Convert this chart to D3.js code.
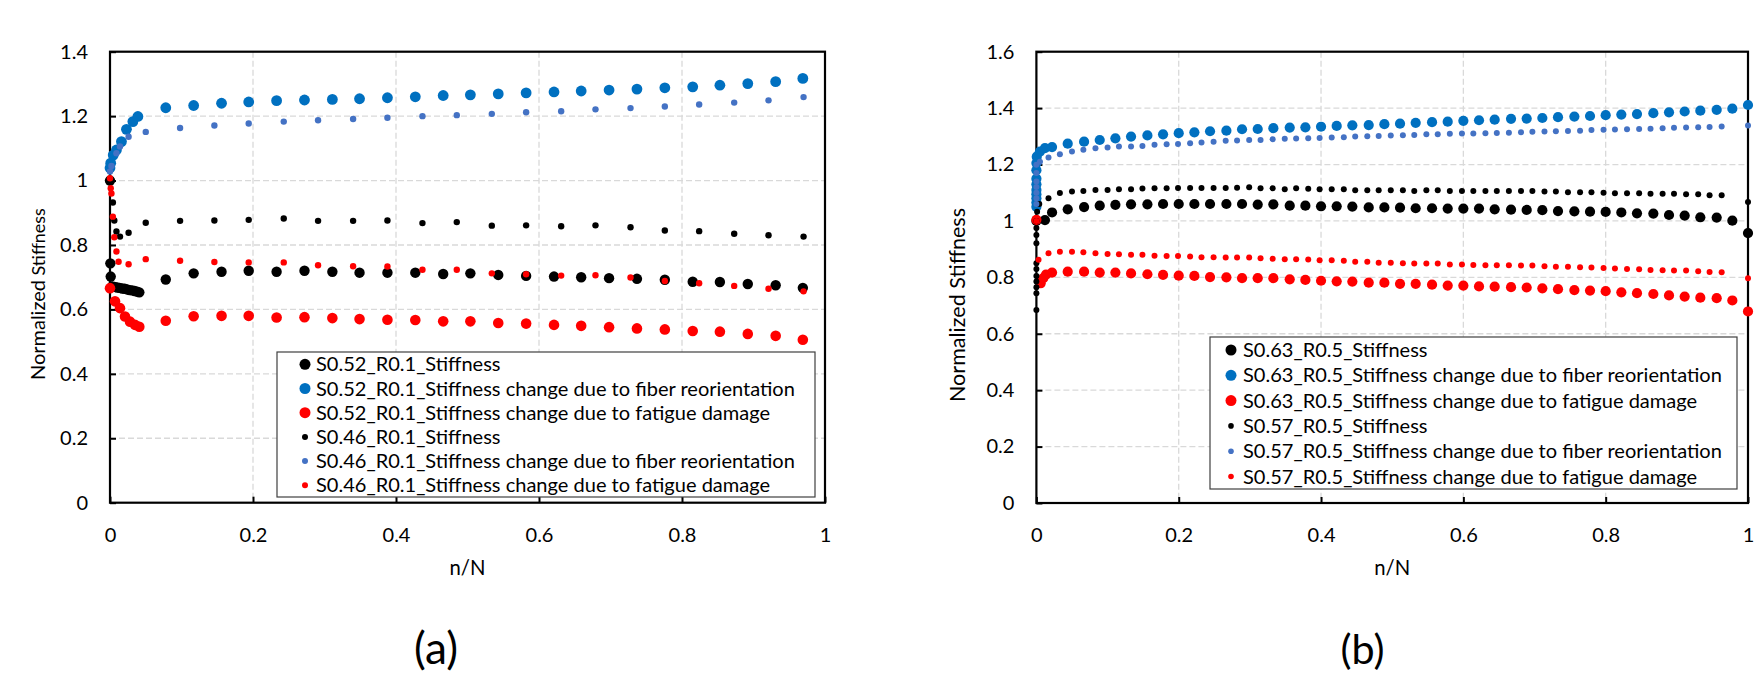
<!DOCTYPE html>
<html><head><meta charset="utf-8">
<script src="https://cdn.jsdelivr.net/npm/d3@7"></script>
<style>
body{margin:0;background:#fff;}
svg{display:block;}
text{font-family:Lato,'Open Sans',sans-serif;fill:#000;}
</style>
</head><body>
<svg id="c" width="1754" height="673"></svg>
<script>
// ---------------- Panel (a) data ----------------
const aXLarge = [0.078,0.117,0.156,0.194,0.233,0.272,0.311,0.349,0.388,0.427,0.466,0.504,0.543,0.582,0.621,0.659,0.698,0.737,0.776,0.815,0.853,0.892,0.931,0.969];
const aXSmall = [0.050,0.098,0.146,0.194,0.243,0.291,0.340,0.388,0.437,0.485,0.534,0.582,0.631,0.679,0.728,0.776,0.824,0.873,0.921,0.970];

const a1EarlyX = [0,0.0005,0.001,0.003,0.0065,0.010,0.0135,0.017,0.0205,0.024,0.0275,0.031,0.0345,0.038,0.041];
const a1EarlyY = [1.0,0.743,0.702,0.671,0.670,0.668,0.667,0.665,0.664,0.662,0.660,0.659,0.657,0.655,0.653];
const a1Y = [0.693,0.712,0.717,0.720,0.717,0.720,0.717,0.714,0.714,0.714,0.710,0.712,0.707,0.704,0.702,0.700,0.697,0.695,0.692,0.686,0.685,0.679,0.675,0.667];

const a2EarlyX = [0,0.001,0.0045,0.009,0.016,0.023,0.032,0.039];
const a2EarlyY = [1.039,1.054,1.079,1.095,1.121,1.159,1.183,1.199];
const a2Y = [1.226,1.233,1.240,1.244,1.248,1.250,1.252,1.254,1.257,1.260,1.264,1.266,1.269,1.272,1.275,1.278,1.281,1.284,1.288,1.291,1.296,1.301,1.307,1.317];

const a3EarlyX = [0,0.007,0.014,0.021,0.028,0.035,0.041];
const a3EarlyY = [0.666,0.625,0.604,0.578,0.562,0.552,0.546];
const a3Y = [0.565,0.579,0.580,0.580,0.575,0.576,0.573,0.570,0.568,0.567,0.563,0.563,0.558,0.556,0.552,0.549,0.545,0.541,0.538,0.533,0.531,0.524,0.518,0.506];

const a4EarlyX = [0,0.004,0.006,0.009,0.014,0.026];
const a4EarlyY = [1.0,0.932,0.876,0.842,0.826,0.838];
const a4Y = [0.869,0.875,0.876,0.878,0.882,0.875,0.875,0.876,0.868,0.871,0.860,0.861,0.858,0.861,0.855,0.845,0.843,0.835,0.830,0.826];

const a5EarlyX = [0,0.002,0.009,0.014,0.026];
const a5EarlyY = [1.028,1.045,1.085,1.106,1.136];
const a5Y = [1.151,1.163,1.171,1.177,1.183,1.187,1.191,1.195,1.200,1.203,1.207,1.212,1.215,1.221,1.225,1.230,1.236,1.242,1.249,1.259];

const a6EarlyX = [0,0.001,0.002,0.004,0.006,0.009,0.012,0.026];
const a6EarlyY = [1.007,0.976,0.960,0.888,0.824,0.780,0.748,0.740];
const a6Y = [0.756,0.751,0.747,0.746,0.746,0.737,0.734,0.733,0.723,0.723,0.712,0.709,0.705,0.706,0.699,0.688,0.681,0.673,0.664,0.656];

const aNames = ["S0.52_R0.1_Stiffness","S0.52_R0.1_Stiffness change due to fiber reorientation","S0.52_R0.1_Stiffness change due to fatigue damage","S0.46_R0.1_Stiffness","S0.46_R0.1_Stiffness change due to fiber reorientation","S0.46_R0.1_Stiffness change due to fatigue damage"];
const aYTicks = [0,0.2,0.4,0.6,0.8,1.0,1.2,1.4];
const aYTickLabels = ["0","0.2","0.4","0.6","0.8","1","1.2","1.4"];

// ---------------- Panel (b) data ----------------
const bXLarge = [0.022,0.044,0.067,0.089,0.111,0.133,0.156,0.178,0.200,0.222,0.244,0.267,0.289,0.311,0.333,0.356,0.378,0.400,0.422,0.444,0.467,0.489,0.511,0.533,0.556,0.578,0.600,0.622,0.644,0.667,0.689,0.711,0.733,0.756,0.778,0.800,0.822,0.844,0.867,0.889,0.911,0.933,0.956,0.978,1.000];
const bXSmall = [0.017,0.033,0.050,0.066,0.083,0.100,0.116,0.133,0.149,0.166,0.183,0.199,0.216,0.232,0.249,0.266,0.282,0.299,0.315,0.332,0.349,0.365,0.382,0.398,0.415,0.432,0.448,0.465,0.481,0.498,0.515,0.531,0.548,0.564,0.581,0.598,0.614,0.631,0.647,0.664,0.681,0.697,0.714,0.730,0.747,0.764,0.780,0.797,0.813,0.830,0.847,0.863,0.880,0.896,0.913,0.930,0.946,0.963,1.000];

const b1EarlyX = [0,0.012];
const b1EarlyY = [1.0,1.003];
const b1Y = [1.030,1.041,1.049,1.054,1.057,1.059,1.059,1.060,1.060,1.060,1.060,1.060,1.060,1.058,1.059,1.054,1.054,1.052,1.052,1.051,1.048,1.048,1.047,1.045,1.045,1.044,1.044,1.044,1.041,1.040,1.039,1.038,1.035,1.034,1.033,1.032,1.030,1.027,1.026,1.021,1.019,1.013,1.012,1.001,0.957];

const b2EarlyX = [0,0,0,0,0,0,0,0,0,0.0005,0.005,0.012];
const b2EarlyY = [1.05,1.065,1.08,1.095,1.11,1.13,1.15,1.18,1.205,1.228,1.246,1.258];
const b2Y = [1.262,1.274,1.281,1.287,1.293,1.299,1.303,1.307,1.311,1.314,1.318,1.320,1.325,1.326,1.329,1.331,1.332,1.334,1.337,1.339,1.340,1.343,1.345,1.348,1.350,1.352,1.355,1.357,1.359,1.362,1.363,1.365,1.368,1.370,1.372,1.375,1.377,1.379,1.382,1.385,1.388,1.391,1.394,1.398,1.411];

const b3EarlyX = [0,0.006,0.0097,0.0135];
const b3EarlyY = [1.004,0.779,0.797,0.810];
const b3Y = [0.817,0.820,0.820,0.817,0.817,0.814,0.811,0.809,0.806,0.805,0.801,0.800,0.797,0.797,0.797,0.793,0.791,0.788,0.786,0.785,0.781,0.781,0.777,0.777,0.774,0.771,0.771,0.768,0.767,0.765,0.764,0.761,0.758,0.755,0.753,0.751,0.747,0.744,0.741,0.736,0.732,0.728,0.726,0.718,0.679];

const b4EarlyX = [0,0,0,0,0,0,0,0,0,0,0,0.001,0.004];
const b4EarlyY = [0.684,0.744,0.765,0.785,0.805,0.830,0.850,0.921,0.950,0.975,1.0,1.033,1.060];
const b4Y = [1.080,1.099,1.104,1.106,1.110,1.110,1.112,1.112,1.115,1.116,1.116,1.117,1.117,1.117,1.117,1.117,1.118,1.119,1.116,1.116,1.112,1.116,1.114,1.112,1.112,1.112,1.109,1.109,1.109,1.109,1.109,1.106,1.109,1.109,1.106,1.106,1.106,1.106,1.106,1.106,1.106,1.106,1.104,1.104,1.102,1.102,1.102,1.100,1.098,1.098,1.098,1.096,1.096,1.096,1.095,1.095,1.091,1.091,1.067];

const b5EarlyX = [0,0,0,0,0,0,0,0.005];
const b5EarlyY = [1.06,1.08,1.10,1.12,1.14,1.17,1.199,1.21];
const b5Y = [1.225,1.236,1.246,1.252,1.258,1.260,1.264,1.264,1.266,1.270,1.272,1.273,1.275,1.278,1.281,1.284,1.285,1.287,1.287,1.290,1.291,1.292,1.293,1.294,1.296,1.297,1.299,1.300,1.301,1.303,1.304,1.305,1.307,1.307,1.309,1.310,1.310,1.311,1.312,1.313,1.314,1.316,1.317,1.318,1.319,1.320,1.322,1.323,1.324,1.325,1.326,1.327,1.329,1.330,1.331,1.332,1.333,1.335,1.338];

const b6EarlyX = [0,0.003];
const b6EarlyY = [1.0,0.862];
const b6Y = [0.885,0.891,0.891,0.889,0.885,0.883,0.882,0.880,0.880,0.877,0.876,0.876,0.874,0.871,0.871,0.870,0.870,0.870,0.868,0.866,0.864,0.864,0.863,0.861,0.861,0.859,0.855,0.855,0.852,0.852,0.850,0.849,0.849,0.849,0.846,0.846,0.844,0.843,0.843,0.843,0.842,0.842,0.839,0.838,0.838,0.836,0.835,0.833,0.831,0.830,0.829,0.826,0.825,0.824,0.824,0.822,0.819,0.818,0.797];

const bNames = ["S0.63_R0.5_Stiffness","S0.63_R0.5_Stiffness change due to fiber reorientation","S0.63_R0.5_Stiffness change due to fatigue damage","S0.57_R0.5_Stiffness","S0.57_R0.5_Stiffness change due to fiber reorientation","S0.57_R0.5_Stiffness change due to fatigue damage"];
const bYTicks = [0,0.2,0.4,0.6,0.8,1.0,1.2,1.4,1.6];
const bYTickLabels = ["0","0.2","0.4","0.6","0.8","1","1.2","1.4","1.6"];

const xTicks = [0,0.2,0.4,0.6,0.8,1.0];
const xTickLabels = ["0","0.2","0.4","0.6","0.8","1"];

const colors = ["#000000","#0070C0","#FF0000","#000000","#4472C4","#FF0000"];

// ---------------- drawing ----------------
const svg = d3.select("#c");

function zip(xs, ys){ return xs.map((x,i)=>({x:x, y:ys[i]})); }
function fit(sel, target){
  const w = sel.node().getComputedTextLength();
  const fs = parseFloat(sel.attr("font-size"));
  sel.attr("font-size", (fs*target/w).toFixed(2));
}

function panel(cfg){
  const g = svg.append("g");
  const x = d3.scaleLinear().domain([0,1]).range([cfg.left, cfg.right]);
  const y = d3.scaleLinear().domain([0, cfg.yMax]).range([cfg.bottom, cfg.top]);

  // grid
  g.append("g").selectAll("line").data(cfg.yTicks.filter(v=>v>0 && v<cfg.yMax)).join("line")
    .attr("x1", cfg.left).attr("x2", cfg.right).attr("y1", d=>y(d)).attr("y2", d=>y(d))
    .attr("stroke","#d9d9d9").attr("stroke-width",1.3).attr("stroke-dasharray","6,3");
  g.append("g").selectAll("line").data(xTicks.filter(v=>v>0 && v<1)).join("line")
    .attr("y1", cfg.top).attr("y2", cfg.bottom).attr("x1", d=>x(d)).attr("x2", d=>x(d))
    .attr("stroke","#d9d9d9").attr("stroke-width",1.3).attr("stroke-dasharray","6,3");

  // axes
  const ya = d3.axisLeft(y).tickValues(cfg.yTicks).tickFormat((d,i)=>cfg.yTickLabels[i])
    .tickSizeInner(-6).tickSizeOuter(0).tickPadding(22);
  const yg = g.append("g").attr("transform",`translate(${cfg.left},0)`).call(ya);
  const xa = d3.axisBottom(x).tickValues(xTicks).tickFormat((d,i)=>xTickLabels[i])
    .tickSizeInner(-6).tickSizeOuter(0).tickPadding(25);
  const xg = g.append("g").attr("transform",`translate(0,${cfg.bottom})`).call(xa);
  [yg,xg].forEach(a=>{
    a.select(".domain").remove();
    a.selectAll(".tick line").attr("stroke","#000").attr("stroke-width",2);
    a.selectAll(".tick text").attr("font-size",20).attr("font-family","Lato").attr("fill","#000");
  });

  // frame
  g.append("rect").attr("x",cfg.left).attr("y",cfg.top)
    .attr("width",cfg.right-cfg.left).attr("height",cfg.bottom-cfg.top)
    .attr("fill","none").attr("stroke","#000").attr("stroke-width",2.2);

  // series
  cfg.series.forEach((s,i)=>{
    g.append("g").selectAll("circle").data(s.pts).join("circle")
      .attr("cx", d=>x(d.x)).attr("cy", d=>y(d.y)).attr("r", s.r)
      .attr("fill", colors[i]);
  });

  // legend
  const L = cfg.legend;
  g.append("rect").attr("x",L.x0).attr("y",L.y0).attr("width",L.x1-L.x0).attr("height",L.y1-L.y0)
    .attr("fill","#fff").attr("stroke","#404040").attr("stroke-width",1.2);
  const rows = g.append("g");
  let longest = null;
  cfg.names.forEach((nm,i)=>{
    const cy = L.first + i*L.step;
    rows.append("circle").attr("cx",L.mx).attr("cy",cy).attr("r", i<3 ? L.rL : L.rS).attr("fill",colors[i]);
    const t = rows.append("text").attr("class","lg").attr("x",L.tx).attr("y",cy).attr("dy","0.35em")
      .attr("font-size",18).text(nm);
    if(i===1) longest = t;
  });
  const w = longest.node().getComputedTextLength();
  const fs = (18*L.textW/w).toFixed(2);
  rows.selectAll("text.lg").attr("font-size",fs);

  // axis titles
  const xt = g.append("text").attr("x",(cfg.left+cfg.right)/2).attr("y",575)
    .attr("text-anchor","middle").attr("font-size",20).text("n/N");
  fit(xt, 36);

  const pl = g.append("text").attr("x",cfg.panelX).attr("y",664)
    .attr("text-anchor","middle").attr("font-size",34).text(cfg.panelLabel);
  fit(pl, 44);

  return {x,y,g};
}

function series(ex, ey, xs, ys, r){ return {pts: zip(ex,ey).concat(zip(xs,ys)), r:r}; }

panel({
  left:110, right:825, top:51.7, bottom:502.7, yMax:1.4,
  yTicks:aYTicks, yTickLabels:aYTickLabels, names:aNames,
  series:[
    series(a1EarlyX,a1EarlyY,aXLarge,a1Y,5.2),
    series(a2EarlyX,a2EarlyY,aXLarge,a2Y,5.4),
    series(a3EarlyX,a3EarlyY,aXLarge,a3Y,5.3),
    series(a4EarlyX,a4EarlyY,aXSmall,a4Y,3.2),
    series(a5EarlyX,a5EarlyY,aXSmall,a5Y,3.2),
    series(a6EarlyX,a6EarlyY,aXSmall,a6Y,3.2)
  ],
  legend:{x0:277,y0:352,x1:815,y1:497,first:364.3,step:24.2,mx:305,tx:316,rL:5.5,rS:3,textW:479},
  panelX:436, panelLabel:"(a)"
});

panel({
  left:1036.4, right:1748, top:51.7, bottom:503, yMax:1.6,
  yTicks:bYTicks, yTickLabels:bYTickLabels, names:bNames,
  series:[
    series(b1EarlyX,b1EarlyY,bXLarge,b1Y,5.1),
    series(b2EarlyX,b2EarlyY,bXLarge,b2Y,5.1),
    series(b3EarlyX,b3EarlyY,bXLarge,b3Y,5.1),
    series(b4EarlyX,b4EarlyY,bXSmall,b4Y,3.0),
    series(b5EarlyX,b5EarlyY,bXSmall,b5Y,3.0),
    series(b6EarlyX,b6EarlyY,bXSmall,b6Y,3.0)
  ],
  legend:{x0:1210,y0:337,x1:1737,y1:489,first:350,step:25.3,mx:1231,tx:1243,rL:5.5,rS:2.8,textW:479},
  panelX:1362.5, panelLabel:"(b)"
});

// y-axis titles
const ylA = svg.append("text").attr("transform","translate(45,380) rotate(-90)").attr("text-anchor","start");
const tA1 = ylA.append("tspan").attr("font-size",20).text("Normalized");
const tA2 = ylA.append("tspan").attr("font-size",16).text(" Stiffness");
fit(tA1, 100); fit(tA2, 72);

const ylB = svg.append("text").attr("transform","translate(965,402) rotate(-90)").attr("text-anchor","start")
  .attr("font-size",20).text("Normalized Stiffness");
fit(ylB, 194);
</script>
</body></html>
